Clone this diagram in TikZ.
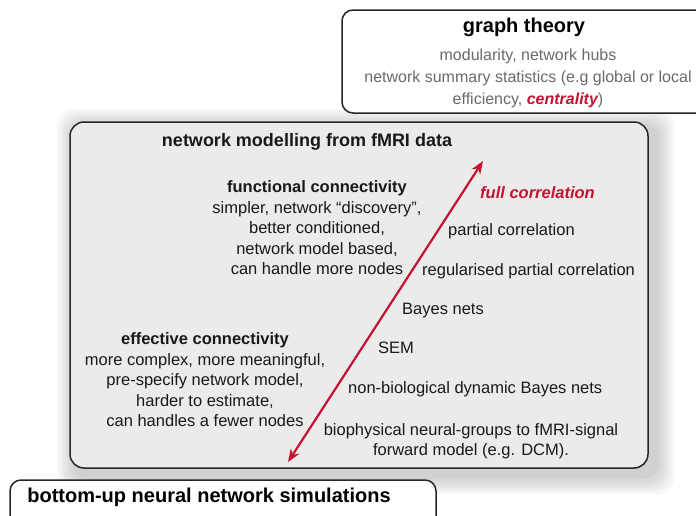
\documentclass[tikz,border=0pt]{standalone}
\usepackage{fontspec}
\setmainfont{Liberation Sans}
\usetikzlibrary{arrows.meta}
\definecolor{fmrired}{HTML}{C41230}
\definecolor{panelgray}{HTML}{EBEBEB}
\definecolor{softtext}{HTML}{6A6A6A}
\tikzset{
  boxline/.style={draw=black!85,line width=1.5pt,rounded corners=11},
  bodytext/.style={inner sep=0pt,align=center,text=black!90,font=\fontsize{16.5}{20.5}\selectfont},
  headtext/.style={inner sep=0pt,font=\bfseries\fontsize{20}{24}\selectfont},
  corrarrow/.style={draw=fmrired,line width=2.2pt,{Stealth[length=13pt,width=10pt]}-{Stealth[length=13pt,width=10pt]}}
}

\begin{document}
\begin{tikzpicture}[x=1pt,y=-1pt]
\clip (0,0) rectangle (696,515);
\fill[white] (0,0) rectangle (696,515);
\foreach \s in {3,6,...,18}
  \fill[black,opacity=0.03,rounded corners=16] ({75-\s},{127-\s}) rectangle ({656+\s},{476+\s});
\fill[panelgray,draw=black!85,line width=1.5pt,rounded corners=14] (70,122) rectangle (648,468);
\draw[boxline,fill=white] (342,10) rectangle (720,113);
\draw[boxline,fill=white] (10,480) rectangle (436,530);
\node[headtext] (graphtitle) at (524,27) {graph theory};
\node[bodytext,text=softtext,font=\fontsize{16}{22}\selectfont] (graphbody) at (528,78) {modularity, network hubs\\network summary statistics (e.g global or local\\efficiency, {\color{fmrired}\bfseries\itshape centrality})};
\node[headtext] (simtitle) at (209,497) {bottom-up neural network simulations};
\node[bodytext,font=\bfseries\fontsize{18}{22}\selectfont] (modtitle) at (307,142) {network modelling from fMRI data};
\node[bodytext] (funcconn) at (317,228) {\textbf{functional connectivity}\\simpler, network ``discovery'',\\better conditioned,\\network model based,\\can handle more nodes};
\node[bodytext] (effconn) at (205,380) {\textbf{effective connectivity}\\more complex, more meaningful,\\pre-specify network model,\\harder to estimate,\\can handles a fewer nodes};
\coordinate (lowend) at (288,462);
\coordinate (highend) at (483,161);
\draw[corrarrow] (lowend) -- (highend);
\node[bodytext,anchor=west,text=fmrired,font=\bfseries\itshape\fontsize{16.5}{20.5}\selectfont] (fullcorr) at (480,193) {full correlation};
\node[bodytext,anchor=west] (partcorr) at (448,231) {partial correlation};
\node[bodytext,anchor=west] (regcorr) at (422,271) {regularised partial correlation};
\node[bodytext,anchor=west] (bayes) at (402,311) {Bayes nets};
\node[bodytext,anchor=west] (sem) at (378,348) {SEM};
\node[bodytext,anchor=west] (dynbayes) at (348,389) {non-biological dynamic Bayes nets};
\node[bodytext] (dcm) at (471,441) {biophysical neural-groups to fMRI-signal\\forward model (e.g. DCM).};
\end{tikzpicture}
\end{document}
